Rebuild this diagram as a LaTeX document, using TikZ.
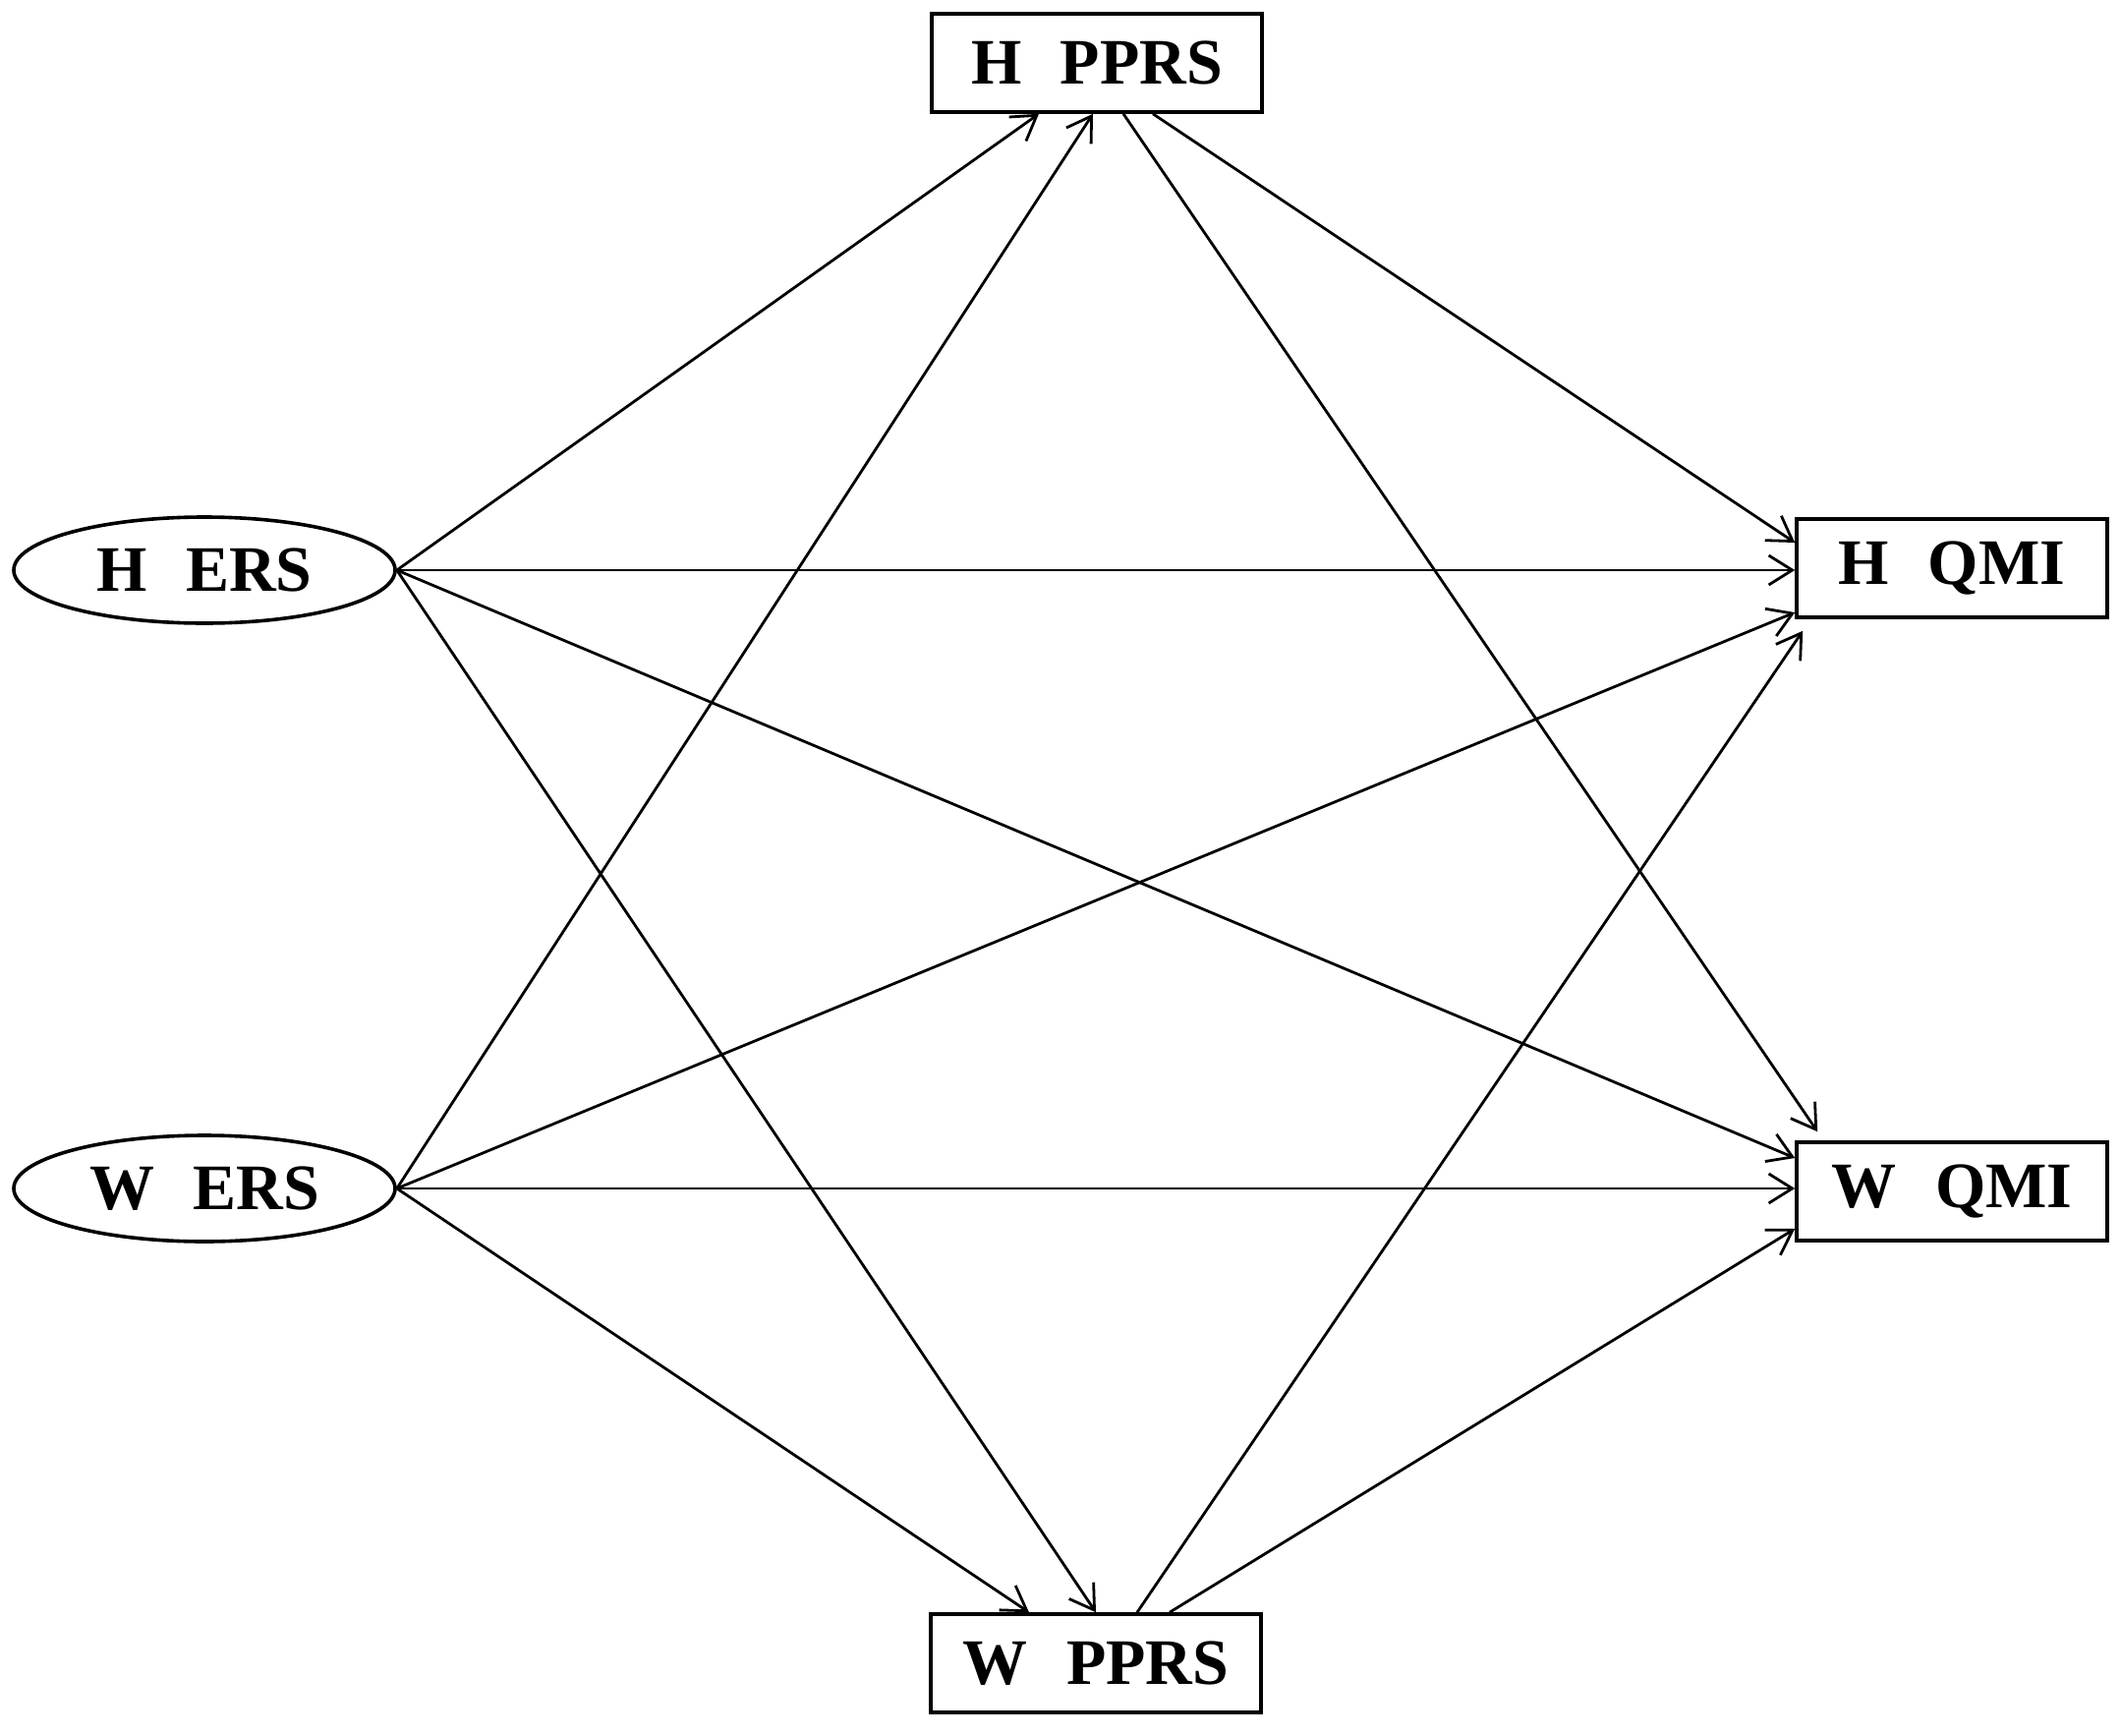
\documentclass[tikz,border=0pt]{standalone}
\usepackage{fontspec}
\setmainfont{Liberation Serif}
\usetikzlibrary{arrows.meta,shapes.geometric}
\begin{document}
\begin{tikzpicture}[x=0.5pt,y=-0.5pt,
  lbl/.style={font=\fontsize{33}{38}\selectfont\bfseries, inner sep=0pt, line width=1.8pt, draw=black},
  boxnode/.style={lbl, rectangle, minimum width=168pt, minimum height=50pt},
  ovalnode/.style={lbl, ellipse, minimum width=194pt, minimum height=54pt},
  conn/.style={line width=1.4pt, -{Straight Barb[length=12pt,width=15pt,line width=1.4pt]}}
]
\useasboundingbox (0,0) rectangle (2158,1766);
\node[boxnode] (hp) at (1116,64) {H\hspace{0.6em}PPRS};
\node[boxnode, minimum width=158pt] (hq) at (1986,578) {H\hspace{0.6em}QMI};
\node[boxnode, minimum width=158pt] (wq) at (1986,1212) {W\hspace{0.6em}QMI};
\node[boxnode] (wp) at (1115,1692) {W\hspace{0.6em}PPRS};
\node[ovalnode] (he) at (208,580) {H\hspace{0.6em}ERS};
\node[ovalnode] (we) at (208,1209) {W\hspace{0.6em}ERS};

% from H ERS
\draw[conn] (he.east) -- ([xshift=-29.5pt]hp.south);
\draw[conn] (he.east) -- (he.east -| hq.west);
\draw[conn] (he.east) -- ([yshift=17pt]wq.west);
\draw[conn] (he.east) -- (wp.north);
% from W ERS
\draw[conn] (we.east) -- ([xshift=-2pt]hp.south);
\draw[conn] (we.east) -- ([yshift=-22.5pt]hq.west);
\draw[conn] (we.east) -- (we.east -| wq.west);
\draw[conn] (we.east) -- ([xshift=-34pt]wp.north);
% from H PPRS
\draw[conn] ([xshift=13.5pt]hp.south) -- ([xshift=11.5pt,yshift=4.5pt]wq.north west);
\draw[conn] ([xshift=28.5pt]hp.south) -- ([yshift=13pt]hq.west);
% from W PPRS
\draw[conn] ([xshift=21pt]wp.north) -- ([xshift=4pt,yshift=-6pt]hq.south west);
\draw[conn] ([xshift=37.5pt]wp.north) -- ([yshift=-19pt]wq.west);
\end{tikzpicture}
\end{document}
